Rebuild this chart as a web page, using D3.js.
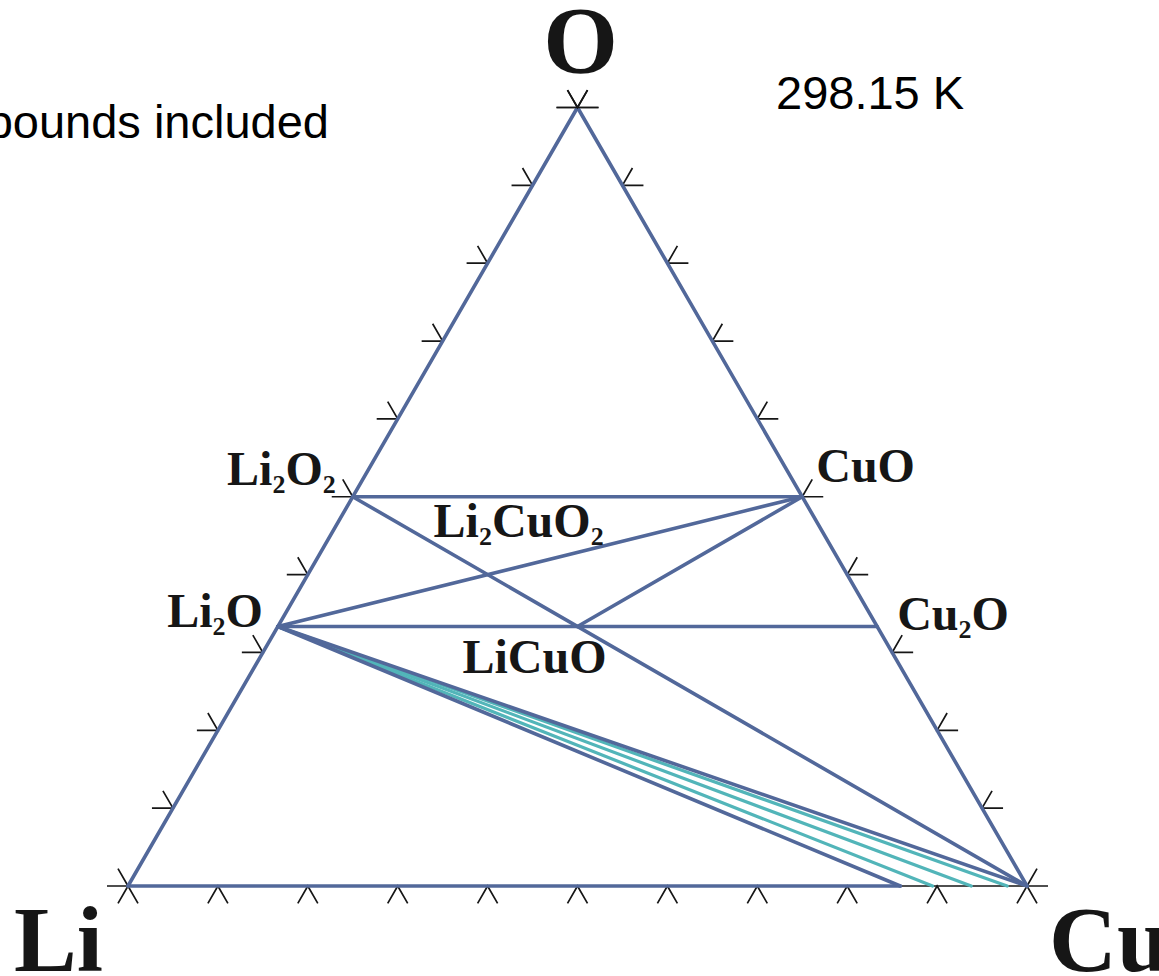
<!DOCTYPE html>
<html>
<head>
<meta charset="utf-8">
<script src="https://cdn.jsdelivr.net/npm/d3@7/dist/d3.min.js"></script>
<style>
  html, body { margin: 0; padding: 0; background: #fff; overflow: hidden; }
  svg { display: block; }
</style>
</head>
<body>
<script>
// ---- data: Li–Cu–O ternary phase diagram at 298.15 K ----
// compositions are atomic fractions [Li, Cu, O]
const elements = ["Li", "Cu", "O"];
const compoundNames = ["Li2O2", "CuO", "Li2O", "Cu2O", "LiCuO", "Li2CuO2"];
const compoundFractions = [
  [1/2, 0, 1/2],
  [0, 1/2, 1/2],
  [2/3, 0, 1/3],
  [0, 2/3, 1/3],
  [1/3, 1/3, 1/3],
  [2/5, 1/5, 2/5]
];
// tie lines between phases
const tieLines = [
  ["Li", "O"], ["O", "Cu"],
  ["Li2O2", "CuO"], ["Li2O2", "Cu"], ["Li2O", "CuO"],
  ["Li2O", "Cu2O"], ["LiCuO", "CuO"], ["Li2O", "Cu"]
];
// Cu fractions on the Li–Cu edge reached by the Li2O fan
const fanCuFractions = [0.859, 0.895, 0.938, 0.978];
const fanKinds = ["edge", "metastable", "metastable", "metastable"];
// ticks every 10 % along each edge
const tickValues = d3.range(0, 1.0001, 0.1);

const W = 1159, H = 976;
const svg = d3.select("body").append("svg").attr("width", W).attr("height", H);

const SQ = Math.sqrt(3) / 2;
const xScale = d3.scaleLinear().domain([0, 1]).range([128, 1027]);
const yScale = d3.scaleLinear().domain([0, SQ]).range([886, 107.5]);

function proj(f) {
  const [li, cu, o] = f;
  const s = li + cu + o;
  return [xScale((cu + o / 2) / s), yScale((o * SQ) / s)];
}

const pos = {};
pos["Li"] = proj([1, 0, 0]);
pos["Cu"] = proj([0, 1, 0]);
pos["O"] = proj([0, 0, 1]);
compoundNames.forEach((n, i) => { pos[n] = proj(compoundFractions[i]); });

const BLUE = "#52689a";
const TEAL = "#52b5b9";
const INK = "#161616";
const LW = 3.6;

const line = d3.line();

// black axis frame underneath
svg.append("path")
  .attr("d", line([pos.Li, pos.Cu, pos.O]) + "Z")
  .attr("fill", "none").attr("stroke", INK).attr("stroke-width", 1.7);

// ticks
const TL = 20, HL = 21;
const cos60 = 0.5, sin60 = SQ;
const tickG = svg.append("g").attr("stroke", INK).attr("stroke-width", 1.7).attr("fill", "none");
tickValues.forEach(t => {
  // bottom edge (Li -> Cu)
  const b = proj([1 - t, t, 0]);
  tickG.append("path").attr("d", line([[b[0] - TL * cos60, b[1] + TL * sin60], b, [b[0] + TL * cos60, b[1] + TL * sin60]]));
  // left edge (Li -> O)
  const l = proj([1 - t, 0, t]);
  tickG.append("path").attr("d", line([[l[0] - HL, l[1]], l, [l[0] - TL * cos60, l[1] - TL * sin60]]));
  // right edge (Cu -> O)
  const r = proj([0, 1 - t, t]);
  tickG.append("path").attr("d", line([[r[0] + HL, r[1]], r, [r[0] + TL * cos60, r[1] - TL * sin60]]));
});

// Li2O fan toward the Cu-rich end of the Li–Cu edge
const fanG = svg.append("g").attr("fill", "none").attr("stroke-linecap", "round");
fanCuFractions.forEach((c, i) => {
  const end = proj([1 - c, c, 0]);
  if (fanKinds[i] === "metastable") {
    fanG.append("path").attr("d", line([pos.Li2O, end]))
      .attr("stroke", TEAL).attr("stroke-width", 3.2);
  }
});
// Li–Cu edge up to the first fan point, and the fan's lower bound
const firstEnd = proj([1 - fanCuFractions[0], fanCuFractions[0], 0]);
fanG.append("path").attr("d", line([pos.Li, firstEnd])).attr("stroke", BLUE).attr("stroke-width", LW);
fanG.append("path").attr("d", line([pos.Li2O, firstEnd])).attr("stroke", BLUE).attr("stroke-width", LW);

// tie lines
const tieG = svg.append("g").attr("fill", "none").attr("stroke", BLUE)
  .attr("stroke-width", LW).attr("stroke-linejoin", "round").attr("stroke-linecap", "round");
tieLines.forEach(([a, b]) => {
  tieG.append("path").attr("d", line([pos[a], pos[b]]));
});

// cross bar at the O corner drawn over the blue edges
const cornerG = svg.append("g").attr("stroke", INK).attr("stroke-width", 1.7).attr("fill", "none");
{
  const p = pos.O;
  cornerG.append("path").attr("d", line([[p[0] - HL, p[1]], [p[0] + HL, p[1]]]));
  cornerG.append("path").attr("d", line([[p[0] - TL * cos60, p[1] - TL * sin60], p, [p[0] + TL * cos60, p[1] - TL * sin60]]));
}

// phase labels
const SERIF = "'Liberation Serif', 'Times New Roman', 'DejaVu Serif', serif";
const labelOffsets = {
  "Li2O2":   { dx: -17, dy: -12, anchor: "end" },
  "CuO":     { dx: 14,  dy: -15, anchor: "start" },
  "Li2O":    { dx: -15, dy: 0,   anchor: "end" },
  "Cu2O":    { dx: 20,  dy: 3,   anchor: "start" },
  "LiCuO":   { dx: -43, dy: 46,  anchor: "middle" },
  "Li2CuO2": { dx: 31,  dy: -38, anchor: "middle" }
};
function formulaParts(name) {
  return name.match(/[A-Z][a-z]?|\d+/g).map(s => ({ s, sub: /\d/.test(s) }));
}
compoundNames.forEach(n => {
  const o = labelOffsets[n];
  const p = pos[n];
  const t = svg.append("text")
    .attr("x", p[0] + o.dx).attr("y", p[1] + o.dy)
    .attr("text-anchor", o.anchor)
    .attr("font-family", SERIF).attr("font-weight", "bold")
    .attr("font-size", 48).attr("fill", INK);
  let shifted = false;
  formulaParts(n).forEach(part => {
    const ts = t.append("tspan").text(part.s);
    if (part.sub && !shifted) { ts.attr("dy", 8).attr("font-size", 26); shifted = true; }
    else if (!part.sub && shifted) { ts.attr("dy", -8); shifted = false; }
  });
});

// element labels at the corners
svg.append("text").attr("x", pos.O[0] + 3).attr("y", 73).attr("text-anchor", "middle")
  .attr("font-family", SERIF).attr("font-weight", "bold").attr("font-size", 96).attr("fill", INK).text("O");
svg.append("text").attr("x", 14).attr("y", 971).attr("text-anchor", "start")
  .attr("font-family", SERIF).attr("font-weight", "bold").attr("font-size", 94).attr("fill", INK).text("Li");
svg.append("text").attr("x", 1049).attr("y", 971).attr("text-anchor", "start")
  .attr("font-family", SERIF).attr("font-weight", "bold").attr("font-size", 94).attr("fill", INK).text("Cu");

// annotations
const SANS = "'Liberation Sans', Arial, Helvetica, sans-serif";
svg.append("text").attr("x", 329).attr("y", 138).attr("text-anchor", "end")
  .attr("font-family", SANS).attr("font-size", 47).attr("fill", "#000").text("All compounds included");
svg.append("text").attr("x", 776).attr("y", 109).attr("text-anchor", "start")
  .attr("font-family", SANS).attr("font-size", 47).attr("fill", "#000").text("298.15 K");
</script>
</body>
</html>
